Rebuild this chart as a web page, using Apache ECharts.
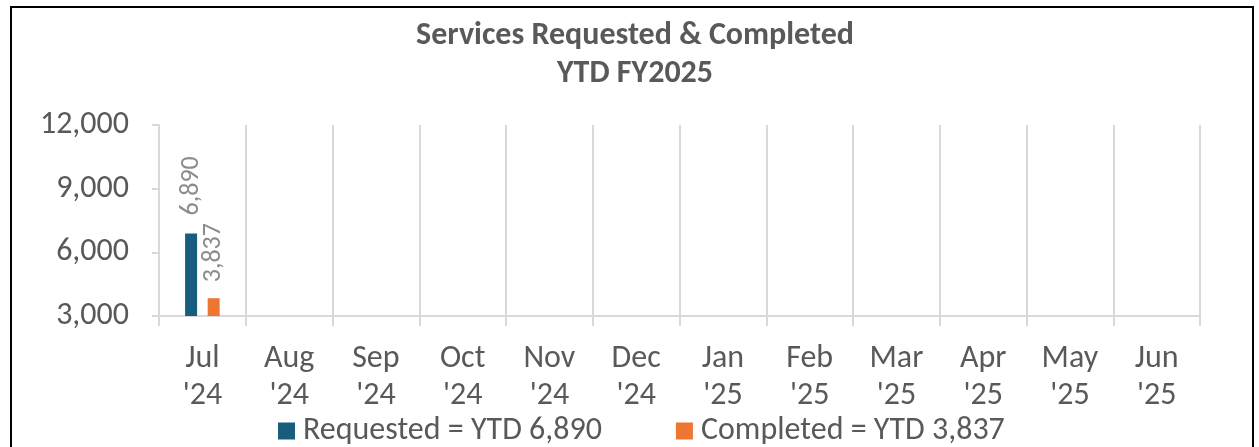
<!DOCTYPE html>
<html>
<head>
<meta charset="utf-8">
<script src="https://cdn.jsdelivr.net/npm/echarts@6/dist/echarts.min.js"></script>
<style>
  html, body { margin: 0; padding: 0; background: #fff; }
  #main { width: 1259px; height: 447px; }
</style>
</head>
<body>
<div id="main"></div>
<script>
// data
var months = ["Jul\n'24", "Aug\n'24", "Sep\n'24", "Oct\n'24", "Nov\n'24", "Dec\n'24",
              "Jan\n'25", "Feb\n'25", "Mar\n'25", "Apr\n'25", "May\n'25", "Jun\n'25"];
var requested = [6890, null, null, null, null, null, null, null, null, null, null, null];
var completed = [3837, null, null, null, null, null, null, null, null, null, null, null];
var seriesNames = ['Requested = YTD 6,890', 'Completed = YTD 3,837'];
var yTicks = [3000, 6000, 9000, 12000];

var FONT = "Carlito, Lato, sans-serif";
var chart = echarts.init(document.getElementById('main'));

chart.setOption({
    animation: false,
    title: {
        text: 'Services Requested & Completed\nYTD FY2025',
        left: 630,
        textAlign: 'center',
        top: 12,
        textStyle: {
            fontFamily: FONT, fontSize: 32, fontWeight: 'bold',
            color: '#595959', lineHeight: 38
        }
    },
    graphic: [{
        type: 'rect',
        shape: { x: 11, y: 7, width: 1242, height: 460 },
        style: { fill: 'none', stroke: '#000', lineWidth: 2 },
        silent: true
    }],
    legend: {
        top: 410,
        left: 273,
        itemWidth: 17,
        itemHeight: 17,
        itemGap: 74,
        icon: 'rect',
        textStyle: { fontFamily: FONT, fontSize: 32, color: '#595959', padding: [0, 0, 0, 3] },
        data: seriesNames
    },
    grid: { left: 159, right: 59, top: 125, bottom: 131 },
    xAxis: {
        type: 'category',
        data: months,
        boundaryGap: true,
        axisLine: { lineStyle: { color: '#d9d9d9', width: 2 } },
        axisTick: { show: true, length: 10, lineStyle: { color: '#d9d9d9', width: 2 } },
        splitLine: { show: true, lineStyle: { color: '#d9d9d9', width: 2 } },
        axisLabel: {
            interval: 0, margin: 24,
            fontFamily: FONT, fontSize: 32, color: '#595959', lineHeight: 37
        }
    },
    yAxis: {
        type: 'value',
        min: yTicks[0],
        max: yTicks[yTicks.length - 1],
        interval: 3000,
        axisLine: { show: true, lineStyle: { color: '#d9d9d9', width: 2 } },
        axisTick: { show: true, length: 7, lineStyle: { color: '#d9d9d9', width: 2 } },
        splitLine: { show: false },
        axisLabel: {
            margin: 30, fontFamily: FONT, fontSize: 32, color: '#595959',
            formatter: function (v) { return v.toLocaleString('en-US'); }
        }
    },
    series: [{
        name: seriesNames[0],
        type: 'bar',
        data: requested,
        barWidth: 12,
        barGap: '88%',
        itemStyle: { color: '#195d7e' },
        label: {
            show: true, position: 'top', rotate: 90, align: 'left', verticalAlign: 'middle',
            distance: 18, fontFamily: FONT, fontSize: 26, color: '#8c8c8c',
            formatter: function (p) { return p.value.toLocaleString('en-US'); }
        }
    }, {
        name: seriesNames[1],
        type: 'bar',
        data: completed,
        barWidth: 12,
        itemStyle: { color: '#ed7633' },
        label: {
            show: true, position: 'top', rotate: 90, align: 'left', verticalAlign: 'middle',
            distance: 16, fontFamily: FONT, fontSize: 26, color: '#8c8c8c',
            formatter: function (p) { return p.value.toLocaleString('en-US'); }
        }
    }]
});
</script>
</body>
</html>
